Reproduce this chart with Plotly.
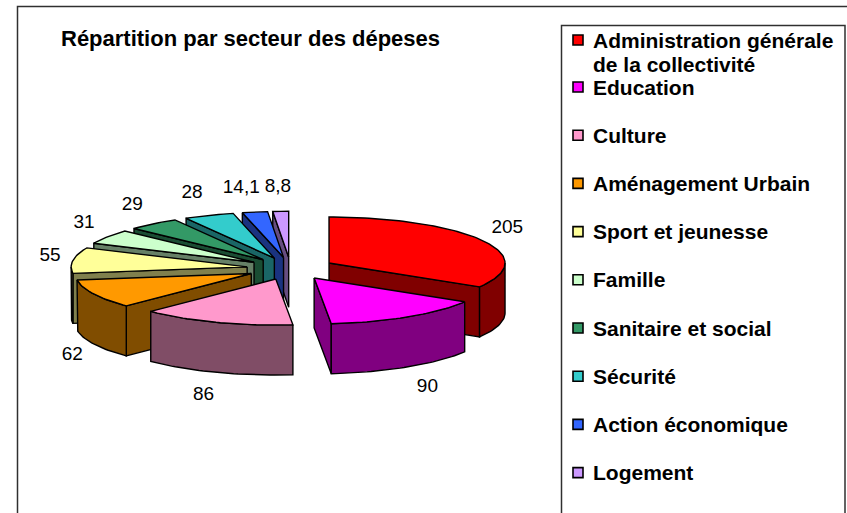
import numpy as np
import plotly.graph_objects as go

categories = ["Administration générale<br>de la collectivité", "Education", "Culture", "Aménagement Urbain",
              "Sport et jeunesse", "Famille", "Sanitaire et social", "Sécurité", "Action économique", "Logement"]
values = [205, 90, 86, 62, 55, 31, 29, 28, 14.1, 8.8]
top_colors = ["#FF0000", "#FF00FF", "#FF99CC", "#FF9900", "#FFFF99", "#CCFFCC", "#339966", "#33CCCC", "#3366FF", "#CC99FF"]
side_colors = ["#800000", "#800080", "#804D66", "#804D00", "#80804D", "#668066", "#1A4D33", "#1A6666", "#1A3380", "#664D80"]
title_text = "Répartition par secteur des dépeses"

CX, CY, RX, RY, DEPTH, EXPLODE, EXPLODE_Y = 290.7, 268.5, 176, 46, 50, 44, 11.2

vals = np.array(values, float)
edges = np.concatenate([[0], np.cumsum(vals)]) / vals.sum() * 2 * np.pi

fig = go.Figure()


def poly(xs, ys, fill):
    fig.add_trace(go.Scatter(x=list(xs) + [xs[0]], y=list(ys) + [ys[0]], mode="lines", fill="toself",
                             fillcolor=fill, line=dict(color="#000000", width=1.4),
                             hoverinfo="skip", showlegend=False))


def arc(ax, ay, a, b):
    t = np.linspace(a, b, max(int((b - a) * 40), 2))
    return ax + RX * np.sin(t), ay - RY * np.cos(t)


def apex(i):
    m = (edges[i] + edges[i + 1]) / 2
    return CX + EXPLODE * np.sin(m), CY - EXPLODE_Y * np.cos(m)


def draw_slice(i):
    a, b = edges[i], edges[i + 1]
    ax, ay = apex(i)
    if np.sin(a) < 0:
        x, y = ax + RX * np.sin(a), ay - RY * np.cos(a)
        poly([ax, x, x, ax], [ay, y, y + DEPTH, ay + DEPTH], side_colors[i])
    if np.sin(b) > 0:
        x, y = ax + RX * np.sin(b), ay - RY * np.cos(b)
        poly([ax, x, x, ax], [ay, y, y + DEPTH, ay + DEPTH], side_colors[i])
    lo, hi = max(a, np.pi / 2), min(b, 3 * np.pi / 2)
    if hi > lo:
        x, y = arc(ax, ay, lo, hi)
        poly(np.concatenate([x, x[::-1]]), np.concatenate([y, y[::-1] + DEPTH]), side_colors[i])
    x, y = arc(ax, ay, a, b)
    poly(np.concatenate([[ax], x]), np.concatenate([[ay], y]), top_colors[i])


for i in [9, 8, 7, 6, 5, 4, 3, 2, 0, 1]:
    draw_slice(i)

label_nudge = {5: -3, 6: -4, 7: -4, 8: -4, 9: 5}
lab_x, lab_y, lab_t = [], [], []
for i, v in enumerate(values):
    m = (edges[i] + edges[i + 1]) / 2
    ax, ay = apex(i)
    s, c = np.sin(m), np.cos(m)
    lab_x.append(ax + 192 * s + (11 if s > 0 else -7) + label_nudge.get(i, 0))
    lab_y.append(ay - 1.5 * RY * c + (DEPTH if c < 0 else 0) + (1 if c < 0 else -1))
    lab_t.append(str(v).replace(".", ","))
fig.add_trace(go.Scatter(x=lab_x, y=lab_y, text=lab_t, mode="text", textposition="middle center",
                         textfont=dict(family="Liberation Sans", size=19, color="#000000"),
                         hoverinfo="skip", showlegend=False))

LEG_X, LEG_Y0, LEG_STEP, LEG_LINE = 578, 87, 48.2, 24
leg_y = [40] + [LEG_Y0 + k * LEG_STEP for k in range(len(categories) - 1)]
fig.add_trace(go.Scatter(x=[LEG_X] * len(categories), y=leg_y, mode="markers",
                         marker=dict(symbol="square", size=10, color=top_colors,
                                     line=dict(color="#000000", width=1.6)),
                         hoverinfo="skip", showlegend=False))
annotations = []
for t, y in zip(categories, leg_y):
    for k, line in enumerate(t.split("<br>")):
        annotations.append(dict(x=591, y=y + k * LEG_LINE, xref="x", yref="y", text="<b>%s</b>" % line,
                                showarrow=False, xanchor="left", yanchor="middle", align="left",
                                font=dict(family="Liberation Sans", size=21, color="#000000")))
annotations.append(dict(x=59, y=38, xref="x", yref="y", text="<b>%s</b>" % title_text, showarrow=False,
                        xanchor="left", yanchor="middle",
                        font=dict(family="Liberation Sans", size=22, color="#000000")))

shapes = [dict(type="rect", x0=17.5, y0=6.5, x1=900, y1=600, xref="x", yref="y", line=dict(color="#303030", width=1.5)),
          dict(type="rect", x0=561.5, y0=25.5, x1=845, y1=600, xref="x", yref="y", line=dict(color="#303030", width=1.5))]

fig.update_layout(width=847, height=513, margin=dict(l=0, r=0, t=0, b=0), paper_bgcolor="white", plot_bgcolor="white",
                  xaxis=dict(range=[0, 847], visible=False, fixedrange=True),
                  yaxis=dict(range=[513, 0], visible=False, fixedrange=True),
                  shapes=shapes, annotations=annotations, showlegend=False)
fig.write_html("out.html", config={"displayModeBar": False},
               post_script="document.body.style.margin='0';")
